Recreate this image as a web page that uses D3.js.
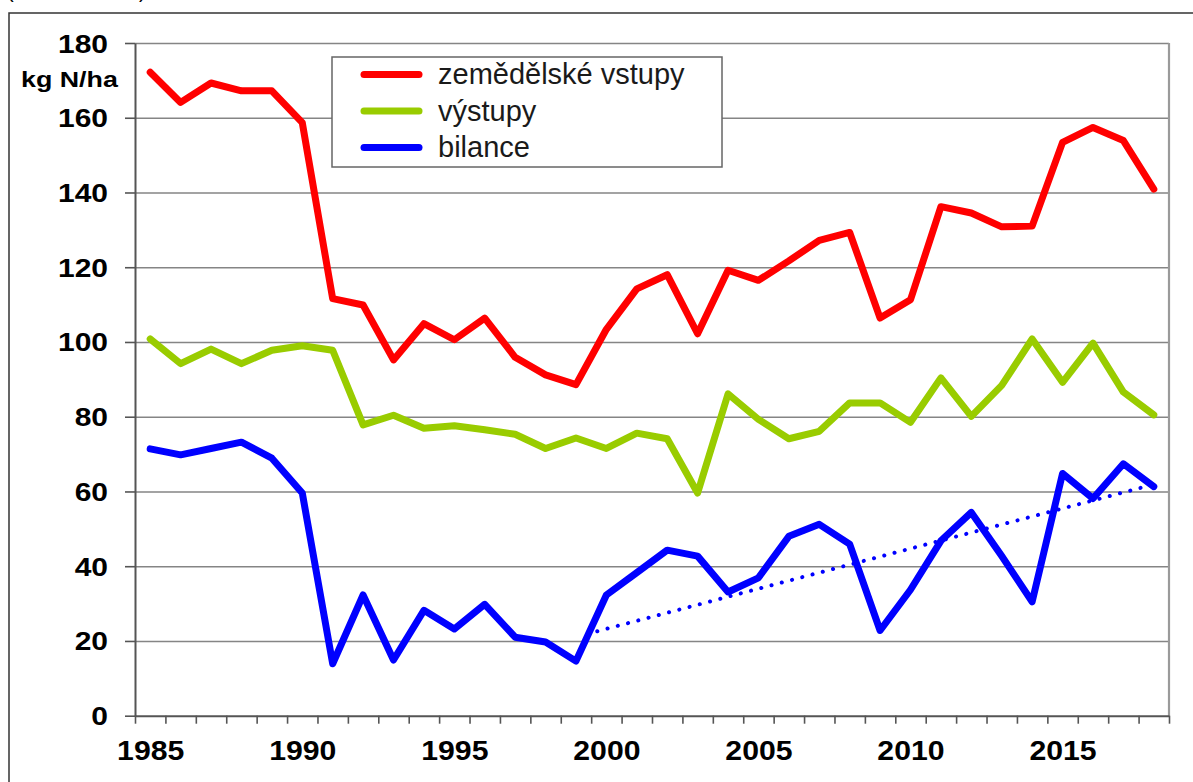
<!DOCTYPE html>
<html>
<head>
<meta charset="utf-8">
<script src="https://cdn.jsdelivr.net/npm/d3@7"></script>
<style>
  body { margin: 0; background: #fff; }
  svg { display: block; font-family: "Liberation Sans", Arial, sans-serif; }
</style>
</head>
<body>
<svg id="chart" width="1193" height="782"></svg>
<script>
const years = [1985, 1986, 1987, 1988, 1989, 1990, 1991, 1992, 1993, 1994, 1995, 1996,
  1997, 1998, 1999, 2000, 2001, 2002, 2003, 2004, 2005, 2006, 2007, 2008, 2009, 2010,
  2011, 2012, 2013, 2014, 2015, 2016, 2017, 2018];

// zemědělské vstupy
const inputs = [172.2, 164.1, 169.3, 167.2, 167.2, 158.7, 111.6, 109.9, 95.2, 104.9, 100.6, 106.4,
  95.9, 91.2, 88.6, 103.4, 114.2, 118.0, 102.2, 119.2, 116.5, 121.7, 127.2, 129.3, 106.4, 111.3,
  136.2, 134.5, 130.8, 131.0, 153.4, 157.4, 153.9, 140.9];

// výstupy
const outputs = [100.8, 94.2, 98.1, 94.2, 97.8, 99.0, 97.8, 77.8, 80.4, 76.9, 77.6, 76.5,
  75.3, 71.5, 74.3, 71.5, 75.6, 74.1, 59.6, 86.1, 79.3, 74.1, 76.1, 83.7, 83.7, 78.5,
  90.4, 80.1, 88.4, 100.8, 89.2, 99.7, 86.6, 80.5];

// bilance
const balance = [71.4, 69.8, 71.5, 73.2, 68.9, 59.6, 13.9, 32.3, 14.9, 28.2, 23.2, 29.8,
  21.0, 19.7, 14.6, 32.3, 38.3, 44.3, 42.7, 33.1, 36.9, 48.0, 51.2, 45.9, 22.8, 33.7,
  46.8, 54.4, 42.7, 30.5, 64.8, 58.1, 67.4, 61.3];

// linear trend of bilance, end points
const trendYears = [1999.7, 2018];
const trendValues = [22.6, 61.9];

const yTicks = [0, 20, 40, 60, 80, 100, 120, 140, 160, 180];
const xLabels = [1985, 1990, 1995, 2000, 2005, 2010, 2015];
const seriesNames = ['zemědělské vstupy', 'výstupy', 'bilance'];
const seriesColors = ['#ff0000', '#99cc00', '#0000ff'];

const plot = { left: 135, right: 1169, top: 43, bottom: 715.7 };
const svg = d3.select('#chart');

// outer frame and the cut-off caption above it
svg.append('path')
  .attr('d', 'M9,790 V13 H1200')
  .attr('fill', 'none')
  .attr('stroke', '#333')
  .attr('stroke-width', 1.5);
svg.append('text').attr('x', 7).attr('y', -2).attr('font-size', 20).text('(');
svg.append('text').attr('x', 139).attr('y', -2).attr('font-size', 20).text(')');

const x = d3.scaleLinear()
  .domain([years[0] - 0.5, years[years.length - 1] + 0.5])
  .range([plot.left, plot.right]);
const y = d3.scaleLinear().domain([0, 180]).range([plot.bottom, plot.top]);

// gridlines
svg.append('g')
  .attr('transform', `translate(${plot.left},0)`)
  .call(d3.axisLeft(y).tickValues(yTicks.slice(1)).tickSize(-(plot.right - plot.left)).tickFormat(''))
  .call((g) => g.select('.domain').remove())
  .call((g) => g.selectAll('line').attr('stroke', '#858585').attr('stroke-width', 1.6));

// right border of the plot
svg.append('line')
  .attr('x1', plot.right).attr('x2', plot.right)
  .attr('y1', plot.top).attr('y2', plot.bottom)
  .attr('stroke', '#9a9a9a').attr('stroke-width', 2.2);

// y axis
const yAxis = svg.append('g')
  .attr('transform', `translate(${plot.left},0)`)
  .call(d3.axisLeft(y).tickValues(yTicks).tickSize(10).tickSizeOuter(0));
yAxis.select('.domain').attr('stroke', '#555').attr('stroke-width', 2);
yAxis.selectAll('.tick line').attr('stroke', '#555').attr('stroke-width', 1.6);
yAxis.selectAll('.tick text')
  .attr('x', -27 / 1.2)
  .attr('dy', '0.36em')
  .attr('transform', 'scale(1.2,1)')
  .attr('font-size', 25)
  .attr('font-weight', 'bold')
  .attr('fill', '#000')
  .attr('font-family', '"Liberation Sans", Arial, sans-serif');

svg.append('text')
  .attr('transform', 'translate(21,87) scale(1.22,1)')
  .attr('font-size', 22)
  .attr('font-weight', 'bold')
  .text('kg N/ha');

// x axis: tick marks on year boundaries
const bounds = years.map((d) => d - 0.5).concat(years[years.length - 1] + 0.5);
const xTicks = svg.append('g')
  .attr('transform', `translate(0,${plot.bottom})`)
  .call(d3.axisBottom(x).tickValues(bounds).tickSize(8).tickSizeOuter(0).tickFormat(''));
xTicks.select('.domain').attr('stroke', '#555').attr('stroke-width', 2);
xTicks.selectAll('.tick line').attr('stroke', '#555').attr('stroke-width', 1.6);

// x axis labels at year centres
const xAxis = svg.append('g')
  .attr('transform', `translate(0,${plot.bottom})`)
  .call(d3.axisBottom(x).tickValues(xLabels).tickSize(0).tickFormat(d3.format('d')));
xAxis.select('.domain').remove();
xAxis.selectAll('.tick text')
  .attr('y', 0)
  .attr('dy', 44)
  .attr('transform', 'scale(1.12,1)')
  .attr('x', function () {
    return 0;
  })
  .attr('font-size', 27)
  .attr('font-weight', 'bold')
  .attr('fill', '#000')
  .attr('font-family', '"Liberation Sans", Arial, sans-serif');

// series lines
const line = d3.line()
  .x((d, i) => x(years[i]))
  .y((d) => y(d));

[inputs, outputs, balance].forEach((values, k) => {
  svg.append('path')
    .datum(values)
    .attr('fill', 'none')
    .attr('stroke', seriesColors[k])
    .attr('stroke-width', 7)
    .attr('stroke-linejoin', 'round')
    .attr('stroke-linecap', 'round')
    .attr('d', line);
});

// trend line (dotted)
svg.append('path')
  .datum(trendValues)
  .attr('fill', 'none')
  .attr('stroke', '#0000ff')
  .attr('stroke-width', 4)
  .attr('stroke-linecap', 'round')
  .attr('stroke-dasharray', '0.1 10.5')
  .attr('d', d3.line().x((d, i) => x(trendYears[i])).y((d) => y(d)));

// legend
const legend = svg.append('g');
legend.append('rect')
  .attr('x', 332).attr('y', 57)
  .attr('width', 390).attr('height', 110)
  .attr('fill', '#fff')
  .attr('stroke', '#666')
  .attr('stroke-width', 1.5);
seriesNames.forEach((name, i) => {
  const cy = 74.5 + i * 36.5;
  legend.append('line')
    .attr('x1', 364).attr('x2', 419)
    .attr('y1', cy).attr('y2', cy)
    .attr('stroke', seriesColors[i])
    .attr('stroke-width', 7)
    .attr('stroke-linecap', 'round');
  legend.append('text')
    .attr('x', 438)
    .attr('y', cy + 9.8)
    .attr('font-size', 29)
    .attr('fill', '#1a1a1a')
    .text(name);
});
</script>
</body>
</html>
